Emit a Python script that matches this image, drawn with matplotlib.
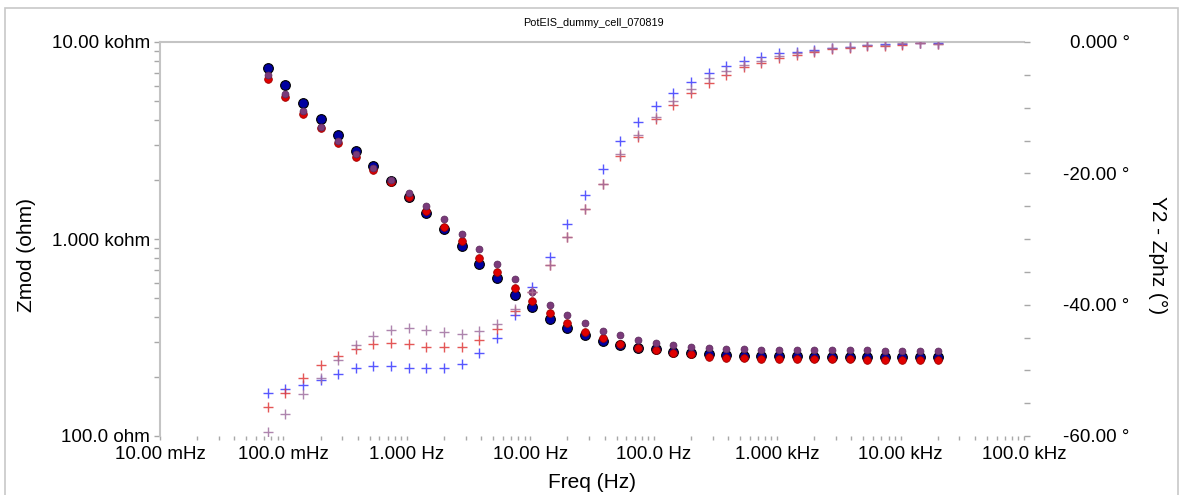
import matplotlib
matplotlib.use('Agg')
import matplotlib.pyplot as plt
from matplotlib.patches import Rectangle

plt.rcParams['font.family'] = ['Liberation Sans', 'DejaVu Sans']

# frequencies (Hz), 7 points per decade
freq = [0.0745, 0.1036, 0.1439, 0.2, 0.2779, 0.3861, 0.5365, 0.7455, 1.036, 1.439,
        2.0, 2.779, 3.861, 5.365, 7.455, 10.36, 14.39, 20.0, 27.79, 38.61,
        53.65, 74.55, 103.6, 143.9, 200.0, 277.9, 386.1, 536.5, 745.5, 1036,
        1439, 2000, 2779, 3861, 5365, 7455, 10360, 14390, 20000]

# Zmod (ohm)
zmod_blue = [7354, 6050, 4918, 4052, 3372, 2807, 2339, 1977, 1640, 1360,
             1120, 921, 749, 632, 520, 450, 393, 352, 326, 305,
             291, 281, 275, 267, 263, 260, 258, 256, 255, 254,
             254, 253, 253, 253, 253, 253, 253, 253, 253]
zmod_red = [6468, 5258, 4325, 3647, 3071, 2617, 2240, 1947, 1640, 1387,
            1154, 977, 801, 678, 566, 484, 420, 373, 337, 313,
            292, 281, 273, 263, 260, 253, 250, 248, 247, 246,
            246, 245, 245, 245, 244, 244, 244, 244, 244]
zmod_purple = [6800, 5445, 4480, 3716, 3145, 2692, 2301, 1993, 1706, 1476,
               1263, 1064, 887, 747, 624, 538, 464, 411, 373, 343,
               324, 308, 296, 289, 284, 281, 277, 275, 274, 273,
               273, 272, 272, 272, 272, 271, 271, 271, 271]

# Zphz (deg)
zphz_blue = [-53.4, -52.9, -52.3, -51.5, -50.5, -49.7, -49.4, -49.4, -49.6, -49.7,
             -49.7, -49.0, -47.4, -45.1, -41.5, -37.3, -32.7, -27.7, -23.3, -19.3,
             -15.0, -12.2, -9.8, -7.7, -6.06, -4.78, -3.66, -2.85, -2.24, -1.73,
             -1.48, -1.22, -0.87, -0.72, -0.46, -0.35, -0.31, -0.11, -0.11]
zphz_red = [-55.6, -53.4, -51.1, -49.2, -47.8, -46.7, -46.0, -45.8, -46.0, -46.4,
            -46.5, -46.4, -45.4, -43.7, -40.9, -38.1, -34.0, -29.7, -25.5, -21.6,
            -17.4, -14.5, -11.8, -9.6, -7.7, -6.2, -4.99, -3.86, -3.16, -2.49,
            -1.98, -1.48, -1.11, -0.87, -0.61, -0.56, -0.46, -0.2, -0.31]
zphz_purple = [-59.4, -56.7, -53.6, -51.1, -48.4, -46.1, -44.7, -43.8, -43.5, -43.8,
               -44.1, -44.4, -44.0, -42.9, -40.7, -38.1, -34.0, -29.7, -25.5, -21.6,
               -17.0, -14.1, -11.4, -8.96, -7.22, -5.54, -4.38, -3.51, -2.85, -2.14,
               -1.73, -1.33, -0.96, -0.72, -0.46, -0.46, -0.15, -0.2, -0.31]

x_ticks = [0.01, 0.1, 1, 10, 100, 1000, 10000, 100000]
x_labels = ['10.00 mHz', '100.0 mHz', '1.000 Hz', '10.00 Hz', '100.0 Hz',
            '1.000 kHz', '10.00 kHz', '100.0 kHz']
y_ticks = [100, 1000, 10000]
y_labels = ['100.0 ohm', '1.000 kohm', '10.00 kohm']
y2_ticks = [-60, -40, -20, 0]
y2_labels = ['-60.00 °', '-40.00 °', '-20.00 °', '0.000 °']

W, H = 1182, 495
fig = plt.figure(figsize=(W / 100, H / 100), dpi=100)
fig.patches.append(Rectangle((5 / W, -0.05), 1173 / W, 1.05 - 8 / H,
                             transform=fig.transFigure, fill=False,
                             edgecolor='#c8c8c8', lw=1.2))

ax = fig.add_axes([160 / W, 1 - 436 / H, 864 / W, 394 / H])
ax2 = ax.twinx()

gray = '#a8a8a8'
ax.set_xscale('log')
ax.set_yscale('log')
ax.set_xlim(0.01, 100000)
ax.set_ylim(100, 10000)
ax2.set_ylim(-60, 0)

ax.plot(freq, zmod_blue, 'o', ms=7, mfc='#0000a0', mec='black', mew=0.8, zorder=3)
ax.plot(freq, zmod_red, 'o', ms=5.5, mfc='#e00000', mec='#a00000', mew=0.6, zorder=4)
ax.plot(freq, zmod_purple, 'o', ms=5, mfc='#7a3a7a', mec='#5a2a5a', mew=0.5, zorder=5)

ax2.plot(freq, zphz_blue, '+', ms=6.5, mew=1.0, color='#3a3aff', alpha=0.85)
ax2.plot(freq, zphz_red, '+', ms=6.5, mew=1.0, color='#e03a3a', alpha=0.85)
ax2.plot(freq, zphz_purple, '+', ms=6.5, mew=1.0, color='#a070a0', alpha=0.85)

for s in ['bottom', 'right']:
    ax.spines[s].set_visible(False)
for s in ['top', 'left']:
    ax.spines[s].set_color('#c4c4c4')
    ax.spines[s].set_linewidth(1.5)
for s in ax2.spines.values():
    s.set_visible(False)

ax.set_xticks(x_ticks, x_labels)
ax.set_yticks(y_ticks, y_labels)
ax2.set_yticks(y2_ticks, y2_labels)
ax2.set_yticks(range(-60, 1, 5), minor=True)

ax.tick_params(axis='x', which='both', direction='out', length=3, width=1,
               color=gray, labelsize=13.5, pad=4)
ax.tick_params(axis='y', which='both', direction='out', length=4, width=1,
               color=gray, labelsize=13.5, pad=3)
ax2.tick_params(axis='y', which='both', direction='out', length=4, width=1,
                color=gray, labelsize=13.5, pad=72)
for t in ax2.get_yticklabels():
    t.set_horizontalalignment('right')

ax.set_xlabel('Freq (Hz)', fontsize=15)
ax.xaxis.label.set_va('center')
ax.xaxis.set_label_coords(0.5, -0.117)
ax.set_ylabel('Zmod (ohm)', fontsize=15)
ax.yaxis.label.set_va('center')
ax.yaxis.set_label_coords(-0.154, 0.46)
ax2.set_ylabel('Y2 - Zphz (°)', fontsize=15, rotation=270)
ax2.yaxis.label.set_va('center')
ax2.yaxis.set_label_coords(1.154, 0.46)

fig.text(593 / W, 1 - 23 / H, 'PotEIS_dummy_cell_070819', fontsize=7.8,
         ha='center', va='center')

fig.savefig('out.png', dpi=100)
